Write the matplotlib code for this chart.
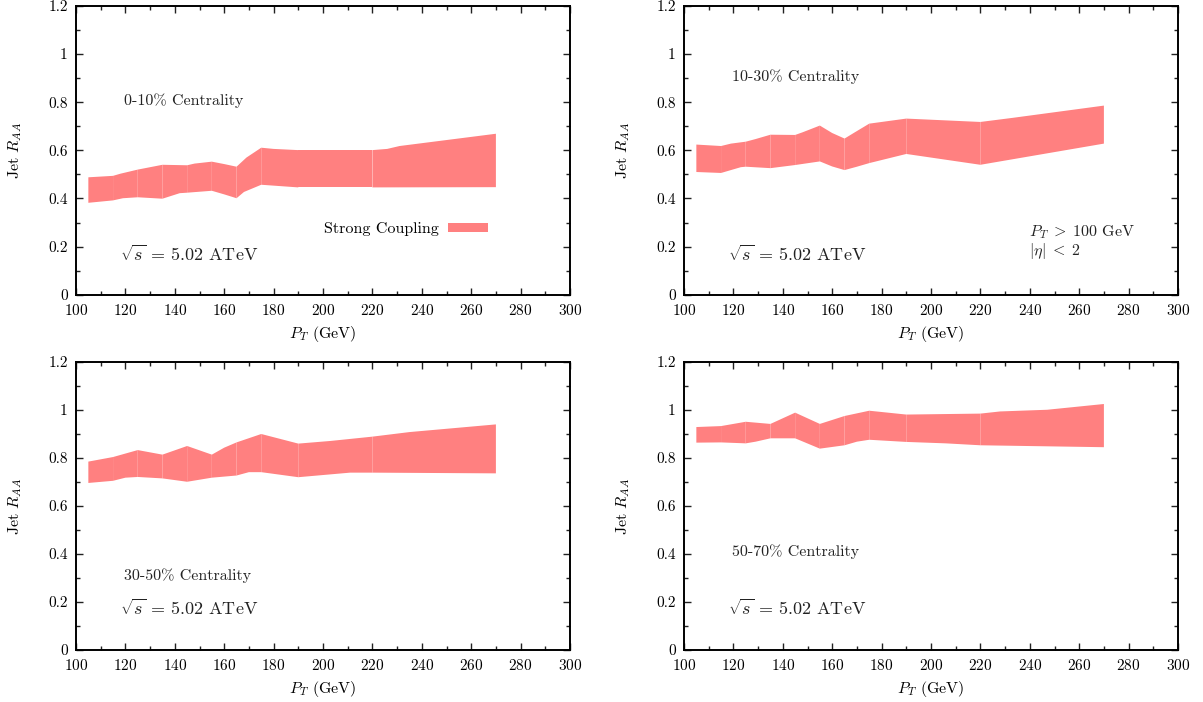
import matplotlib
matplotlib.use("Agg")
import matplotlib.pyplot as plt
from matplotlib.ticker import MultipleLocator

plt.rcParams['font.family'] = 'serif'
plt.rcParams['font.serif'] = ['cmr10']
plt.rcParams['mathtext.fontset'] = 'cm'
plt.rcParams['axes.unicode_minus'] = False
plt.rcParams['axes.formatter.use_mathtext'] = True

BAND_COLOR = '#ff8080'
segment_edges = [105, 115, 125, 135, 145, 155, 165, 175, 190, 220, 270]

# Panel 1: 0-10% centrality
p1_upper_x = [105, 115, 118, 125, 128, 135, 145, 148, 155, 160, 165, 169, 175, 180, 190, 220, 226, 231, 270]
p1_upper_y = [0.488, 0.494, 0.503, 0.520, 0.526, 0.540, 0.538, 0.545, 0.553, 0.543, 0.532, 0.570, 0.611, 0.606, 0.601, 0.601, 0.606, 0.618, 0.669]
p1_lower_x = [105, 115, 119, 125, 135, 142, 145, 155, 160, 165, 168, 175, 190, 220, 270]
p1_lower_y = [0.382, 0.392, 0.401, 0.405, 0.399, 0.422, 0.424, 0.432, 0.417, 0.401, 0.427, 0.457, 0.446, 0.446, 0.447]

# Panel 2: 10-30% centrality
p2_upper_x = [105, 115, 119, 125, 129, 135, 145, 148, 155, 160, 165, 169, 175, 190, 220, 233, 270]
p2_upper_y = [0.624, 0.618, 0.628, 0.636, 0.647, 0.665, 0.664, 0.675, 0.703, 0.672, 0.649, 0.674, 0.711, 0.732, 0.718, 0.735, 0.786]
p2_lower_x = [105, 115, 123, 125, 135, 145, 155, 160, 165, 170, 175, 190, 220, 270]
p2_lower_y = [0.510, 0.506, 0.530, 0.532, 0.526, 0.539, 0.554, 0.533, 0.518, 0.532, 0.547, 0.585, 0.540, 0.628]

# Panel 3: 30-50% centrality
p3_upper_x = [105, 115, 125, 135, 145, 155, 160, 165, 175, 190, 203, 220, 235, 270]
p3_upper_y = [0.785, 0.804, 0.833, 0.814, 0.850, 0.814, 0.843, 0.865, 0.900, 0.860, 0.871, 0.889, 0.908, 0.940]
p3_lower_x = [105, 115, 120, 125, 135, 145, 155, 165, 170, 175, 190, 211, 220, 270]
p3_lower_y = [0.696, 0.705, 0.718, 0.721, 0.715, 0.701, 0.718, 0.727, 0.741, 0.741, 0.720, 0.739, 0.739, 0.736]

# Panel 4: 50-70% centrality
p4_upper_x = [105, 115, 125, 135, 145, 155, 165, 175, 190, 220, 228, 247, 270]
p4_upper_y = [0.929, 0.933, 0.951, 0.942, 0.989, 0.942, 0.975, 0.997, 0.981, 0.985, 0.994, 1.001, 1.025]
p4_lower_x = [105, 115, 125, 129, 135, 145, 155, 165, 170, 175, 190, 206, 220, 270]
p4_lower_y = [0.864, 0.865, 0.861, 0.868, 0.882, 0.882, 0.839, 0.853, 0.868, 0.876, 0.867, 0.861, 0.853, 0.845]

panels = [
    dict(ux=p1_upper_x, uy=p1_upper_y, lx=p1_lower_x, ly=p1_lower_y,
         cent="0-10% Centrality", cent_pos=(119.5, 0.807), rs_pos=(118, 0.169)),
    dict(ux=p2_upper_x, uy=p2_upper_y, lx=p2_lower_x, ly=p2_lower_y,
         cent="10-30% Centrality", cent_pos=(119.5, 0.907), rs_pos=(118, 0.169)),
    dict(ux=p3_upper_x, uy=p3_upper_y, lx=p3_lower_x, ly=p3_lower_y,
         cent="30-50% Centrality", cent_pos=(119.5, 0.308), rs_pos=(118, 0.175)),
    dict(ux=p4_upper_x, uy=p4_upper_y, lx=p4_lower_x, ly=p4_lower_y,
         cent="50-70% Centrality", cent_pos=(119.5, 0.408), rs_pos=(118, 0.175)),
]

W, H = 1203, 702
fig = plt.figure(figsize=(W / 100, H / 100), dpi=100)
rects = [
    (76, 6, 570, 294.7),
    (684, 6, 1178, 294.7),
    (76, 362, 570, 650),
    (684, 362, 1178, 650),
]
FS = 11.5
TFS = 11

for i, (p, (x0, y0, x1, y1)) in enumerate(zip(panels, rects)):
    ax = fig.add_axes([x0 / W, 1 - y1 / H, (x1 - x0) / W, (y1 - y0) / H])
    ax.set_xlim(100, 300)
    ax.set_ylim(0, 1.2)
    # band drawn as one polygon per pT bin
    for a, b in zip(segment_edges[:-1], segment_edges[1:]):
        up = [(x, y) for x, y in zip(p['ux'], p['uy']) if a <= x <= b]
        lo = [(x, y) for x, y in zip(p['lx'], p['ly']) if a <= x <= b]
        poly = up + lo[::-1]
        ax.fill([q[0] for q in poly], [q[1] for q in poly], color=BAND_COLOR,
                lw=0, antialiased=True,
                label='Strong Coupling' if (i == 0 and a == 105) else None)
    ax.xaxis.set_major_locator(MultipleLocator(20))
    ax.xaxis.set_minor_locator(MultipleLocator(10))
    ax.yaxis.set_major_locator(MultipleLocator(0.2))
    ax.yaxis.set_minor_locator(MultipleLocator(0.1))
    ax.set_yticks([0, 0.2, 0.4, 0.6, 0.8, 1.0, 1.2])
    ax.set_yticklabels(['0', '0.2', '0.4', '0.6', '0.8', '1', '1.2'])
    ax.tick_params(which='both', direction='in', top=True, right=True,
                   labelsize=TFS, width=1.0, color='#222222')
    ax.tick_params(which='major', length=5, pad=6)
    ax.tick_params(which='minor', length=3)
    for s in ax.spines.values():
        s.set_linewidth(1.4)
    ax.set_xlabel(r'$P_T$ (GeV)', fontsize=FS)
    ax.set_ylabel(r'Jet $R_{AA}$', fontsize=FS)
    ax.xaxis.set_label_coords(0.5, -0.10)
    ax.yaxis.set_label_coords(-0.105, 0.5)
    ax.text(p['cent_pos'][0], p['cent_pos'][1], p['cent'], fontsize=FS,
            ha='left', va='center', color='#222222')
    ax.text(p['rs_pos'][0], p['rs_pos'][1], r'$\sqrt{s}\,=\,5.02$ ATeV', fontsize=13,
            ha='left', va='center', color='#222222')
    if i == 0:
        ax.legend(loc='center right', bbox_to_anchor=(0.834, 0.228), frameon=False,
                  markerfirst=False, fontsize=FS, handlelength=2.5, handleheight=0.5,
                  borderpad=0, borderaxespad=0, handletextpad=0.6)
    if i == 1:
        ax.text(239.5, 0.262, r'$P_T\;>\;100$ GeV', fontsize=FS, ha='left', va='center',
                color='#222222')
        ax.text(239.5, 0.180, r'$|\eta|\;<\;2$', fontsize=FS, ha='left', va='center',
                color='#222222')

fig.savefig('out.png', dpi=100)
